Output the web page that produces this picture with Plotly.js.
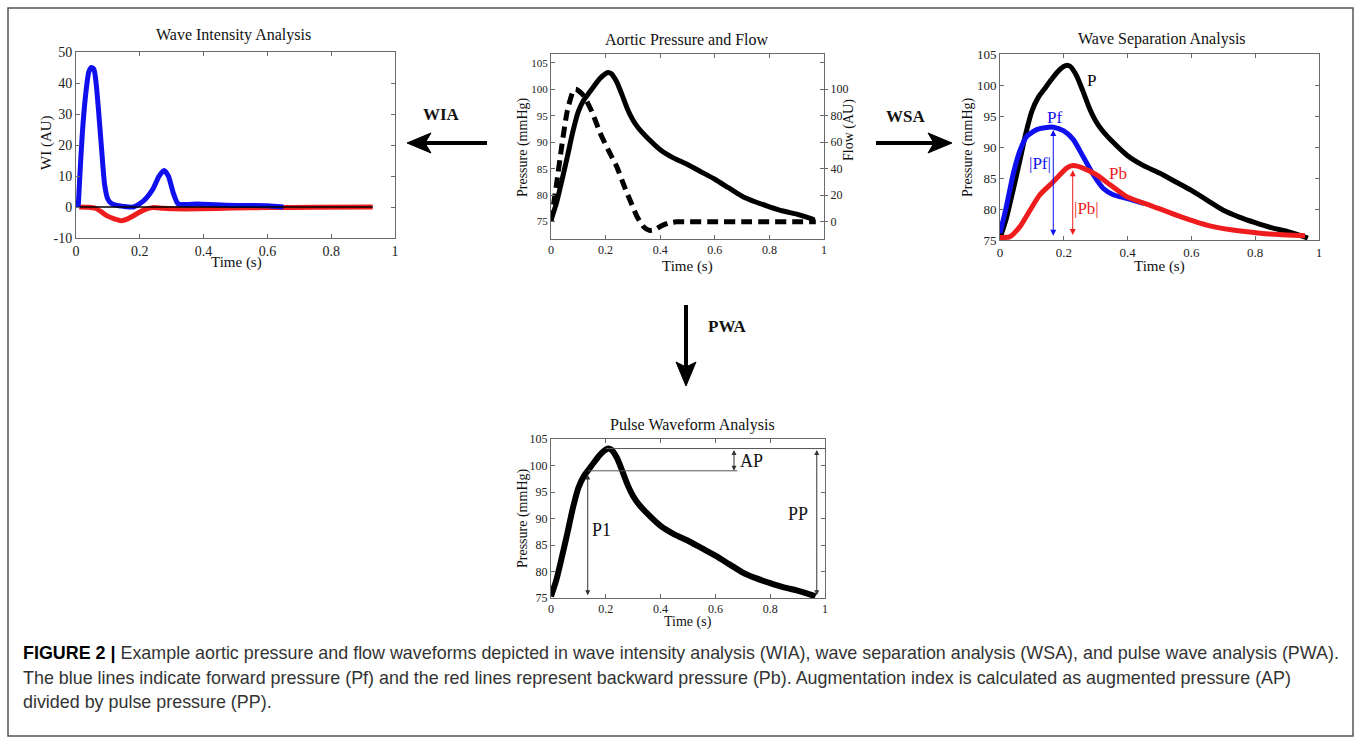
<!DOCTYPE html>
<html>
<head>
<meta charset="utf-8">
<script src="https://cdn.plot.ly/plotly-3.0.1.min.js"></script>
<style>html,body{margin:0;padding:0;background:#fff;}#chart{width:1358px;height:744px;}</style>
</head>
<body>
<div id="chart"></div>
<script>
// ---------- DATA ----------
// Aortic pressure waveform (mmHg) vs time (s)
const tP = [0,0.02,0.04,0.06,0.08,0.1,0.12,0.14,0.16,0.18,0.2,0.21,0.22,0.24,0.26,0.28,0.3,0.32,0.35,0.4,0.45,0.5,0.55,0.6,0.65,0.7,0.75,0.8,0.85,0.9,0.95,0.965];
const pressure = [75.3,78.5,82.8,87.3,92,95.8,98,99.4,100.8,102.1,103,103.2,103,101.5,99,96.3,94.2,92.7,91,88.6,87,85.8,84.4,83,81.4,79.8,78.7,77.8,77,76.4,75.6,75.3];
// Aortic flow (AU)
const tQ = [0,0.02,0.04,0.06,0.08,0.09,0.1,0.12,0.15,0.18,0.21,0.24,0.27,0.29,0.315,0.34,0.36,0.38,0.4,0.43,0.46,0.5,0.6,0.7,0.8,0.9,0.97];
const flow = [0,28,58,84,98,100,99,95,83,67,54,42,26,16,4,-4,-6.5,-6,-3.5,-1,0,0,0,0,0,0,0];
// Wave intensity: forward (blue) and backward (red), AU
const tWf = [0.007,0.012,0.02,0.03,0.04,0.048,0.056,0.063,0.07,0.08,0.09,0.1,0.11,0.125,0.148,0.18,0.21,0.24,0.26,0.276,0.29,0.305,0.32,0.35,0.38,0.44,0.5,0.6,0.65];
const wiForward = [0,10,24,36,43.5,45,44.5,40,32,19,7,2.5,1.2,0.6,0.2,0,1.8,5.6,9.9,11.8,9.9,4.5,1,0.8,1,0.7,0.5,0.4,0];
const tWb = [0.01,0.04,0.06,0.08,0.096,0.12,0.143,0.16,0.18,0.21,0.24,0.27,0.305,0.39,0.49,0.6,0.75,0.93];
const wiBackward = [0,-0.1,-0.4,-1.6,-2.8,-3.8,-4.4,-3.9,-2.8,-1.1,-0.2,-0.4,-0.6,-0.6,-0.3,-0.2,-0.1,0];
const tBase = [0.01,0.93];
const wiBase = [0,0];
// Wave separation: forward (Pf) and backward (Pb) pressure, mmHg
const tPf = [0,0.02,0.042,0.063,0.084,0.115,0.14,0.167,0.2,0.23,0.26,0.293,0.324,0.355,0.397,0.45];
const pForward = [76.1,80.4,85.8,89.5,91.7,92.8,93.1,93.2,92.6,91.2,88.5,85.5,83.3,82.3,81.7,80.9];
const tPb = [0,0.03,0.063,0.094,0.125,0.167,0.209,0.23,0.26,0.303,0.345,0.397,0.48,0.564,0.648,0.73,0.815,0.9,0.956];
const pBackward = [75.4,75.5,77.2,79.8,82.3,84.4,86.6,87,86.6,85.5,83.9,82,80.4,78.8,77.4,76.6,76.1,75.8,75.7];
// Pulse waveform analysis markers
const peakP = 103.2, p1 = 99.0, minP = 75.5;
// Tick labels
const timeTicks = [0,0.2,0.4,0.6,0.8,1];
const timeTickText = ['0','0.2','0.4','0.6','0.8','1'];
const wiTicks = [-10,0,10,20,30,40,50];
const wiTickText = ['-10','0','10','20','30','40','50'];
const pTicks = [75,80,85,90,95,100,105];
const flowTicks = [0,20,40,60,80,100];

// ---------- HELPERS ----------
const W = 1358, H = 744;
const px = x => x / W;
const py = y => 1 - y / H;
const SERIF = 'Liberation Serif, Times New Roman, serif';
const AXC = '#6a6a6a';
function pathPx(pts){return 'M ' + pts.map(p => px(p[0]).toFixed(5)+' '+py(p[1]).toFixed(5)).join(' L ') + ' Z';}

function xAx(dom, anchor, fs){
  return {domain:dom, anchor:anchor, range:[0,1], tickvals:timeTicks, ticktext:timeTickText,
    ticks:'inside', ticklen:4, tickcolor:AXC, showline:true, linecolor:AXC, linewidth:1,
    mirror:'ticks', showgrid:false, zeroline:false, tickfont:{family:SERIF,size:fs,color:'#222'}, fixedrange:true};
}
function yAx(dom, anchor, range, vals, fs, mirror, text){
  const a = {domain:dom, anchor:anchor, range:range, tickvals:vals,
    ticks:'inside', ticklen:4, tickcolor:AXC, showline:true, linecolor:AXC, linewidth:1,
    mirror:mirror, showgrid:false, zeroline:false, tickfont:{family:SERIF,size:fs,color:'#222'}, fixedrange:true};
  if (text) a.ticktext = text;
  return a;
}

// ---------- TRACES ----------
const thick = 5;
const traces = [
  // Panel 1 WIA
  {x:tWb, y:wiBackward, xaxis:'x', yaxis:'y', mode:'lines', line:{color:'#ee1c1c', width:thick, shape:'spline', smoothing:0.6}, name:'backward'},
  {x:tWf, y:wiForward, xaxis:'x', yaxis:'y', mode:'lines', line:{color:'#1010ee', width:thick, shape:'spline', smoothing:0.6}, name:'forward'},
  {x:tBase, y:wiBase, xaxis:'x', yaxis:'y', mode:'lines', line:{color:'#000', width:1.5}, name:'zero'},
  // Panel 2 pressure & flow
  {x:tP, y:pressure, xaxis:'x2', yaxis:'y2', mode:'lines', line:{color:'#000', width:thick, shape:'spline', smoothing:0.6}, name:'pressure'},
  {x:tQ, y:flow, xaxis:'x2', yaxis:'y5', mode:'lines', line:{color:'#000', width:thick, dash:'11px,6px', shape:'spline', smoothing:0.6}, name:'flow'},
  // Panel 3 WSA
  {x:tP, y:pressure, xaxis:'x3', yaxis:'y3', mode:'lines', line:{color:'#000', width:thick, shape:'spline', smoothing:0.6}, name:'P'},
  {x:tPf, y:pForward, xaxis:'x3', yaxis:'y3', mode:'lines', line:{color:'#1010ee', width:thick, shape:'spline', smoothing:0.6}, name:'Pf'},
  {x:tPb, y:pBackward, xaxis:'x3', yaxis:'y3', mode:'lines', line:{color:'#ee1c1c', width:thick, shape:'spline', smoothing:0.6}, name:'Pb'},
  // Panel 4 PWA
  {x:tP, y:pressure, xaxis:'x4', yaxis:'y4', mode:'lines', line:{color:'#000', width:thick+1, shape:'spline', smoothing:0.6}, name:'P'}
];

// ---------- ANNOTATIONS ----------
function txt(x, y, t, size, opts){
  return Object.assign({xref:'paper', yref:'paper', x:px(x), y:py(y), text:t, showarrow:false,
    xanchor:'center', yanchor:'middle', font:{family:SERIF, size:size, color:'#111'}}, opts||{});
}
const CAPF = {family:'Liberation Sans, Arial, sans-serif', size:17.9, color:'#333'};
const ann = [
  // panel titles
  txt(233, 35, 'Wave Intensity Analysis', 16),
  txt(687, 40, 'Aortic Pressure and Flow', 16),
  txt(1162, 39, 'Wave Separation Analysis', 16),
  txt(692, 425, 'Pulse Waveform Analysis', 16),
  // axis titles
  txt(47, 143, 'WI (AU)', 15, {textangle:-90}),
  txt(236, 262, 'Time (s)', 15),
  txt(523, 148, 'Pressure (mmHg)', 14, {textangle:-90}),
  txt(849, 130, 'Flow (AU)', 14, {textangle:-90}),
  txt(687, 266, 'Time (s)', 15),
  txt(968, 148, 'Pressure (mmHg)', 14, {textangle:-90}),
  txt(1159, 266, 'Time (s)', 15),
  txt(523, 519, 'Pressure (mmHg)', 14, {textangle:-90}),
  txt(688, 622, 'Time (s)', 14),
  // method labels
  txt(441, 115, '<b>WIA</b>', 17),
  txt(905, 117, '<b>WSA</b>', 17),
  txt(727, 327, '<b>PWA</b>', 17),
  // WSA labels
  {xref:'x3', yref:'y3', x:0.287, y:100.7, text:'P', showarrow:false, font:{family:SERIF,size:17,color:'#000'}},
  {xref:'x3', yref:'y3', x:0.172, y:94.8, text:'Pf', showarrow:false, font:{family:SERIF,size:17,color:'#1010ee'}},
  {xref:'x3', yref:'y3', x:0.371, y:85.8, text:'Pb', showarrow:false, font:{family:SERIF,size:17,color:'#ee1c1c'}},
  {xref:'x3', yref:'y3', x:0.125, y:87.4, text:'|Pf|', showarrow:false, font:{family:SERIF,size:17,color:'#1010ee'}},
  {xref:'x3', yref:'y3', x:0.272, y:80.1, text:'|Pb|', showarrow:false, font:{family:SERIF,size:17,color:'#ee1c1c'}},
  // WSA arrows
  {xref:'x3', yref:'y3', axref:'x3', ayref:'y3', x:0.167, y:75.7, ax:0.167, ay:93.0, text:'', showarrow:true,
    arrowside:'end+start', arrowhead:2, arrowsize:1.2, arrowwidth:1, arrowcolor:'#1010ee', standoff:0, startstandoff:0},
  {xref:'x3', yref:'y3', axref:'x3', ayref:'y3', x:0.228, y:75.8, ax:0.228, ay:86.5, text:'', showarrow:true,
    arrowside:'end+start', arrowhead:2, arrowsize:1.2, arrowwidth:1, arrowcolor:'#ee1c1c', standoff:0, startstandoff:0},
  // PWA labels
  {xref:'x4', yref:'y4', x:0.73, y:100.9, text:'AP', showarrow:false, font:{family:SERIF,size:18,color:'#111'}},
  {xref:'x4', yref:'y4', x:0.185, y:87.8, text:'P1', showarrow:false, font:{family:SERIF,size:18,color:'#111'}},
  {xref:'x4', yref:'y4', x:0.9, y:90.8, text:'PP', showarrow:false, font:{family:SERIF,size:18,color:'#111'}},
  // PWA arrows
  {xref:'x4', yref:'y4', axref:'x4', ayref:'y4', x:0.668, y:p1, ax:0.668, ay:peakP, text:'', showarrow:true,
    arrowside:'end+start', arrowhead:2, arrowsize:1, arrowwidth:1, arrowcolor:'#333', standoff:0, startstandoff:0},
  {xref:'x4', yref:'y4', axref:'x4', ayref:'y4', x:0.134, y:minP, ax:0.134, ay:p1-0.4, text:'', showarrow:true,
    arrowside:'end+start', arrowhead:2, arrowsize:1, arrowwidth:1, arrowcolor:'#333', standoff:0, startstandoff:0},
  {xref:'x4', yref:'y4', axref:'x4', ayref:'y4', x:0.97, y:minP, ax:0.97, ay:peakP, text:'', showarrow:true,
    arrowside:'end+start', arrowhead:2, arrowsize:1, arrowwidth:1, arrowcolor:'#333', standoff:0, startstandoff:0},
  // caption
  {xref:'paper', yref:'paper', x:px(21), y:py(653), xanchor:'left', yanchor:'middle', showarrow:false,
    text:'<b style="color:#000">FIGURE 2 |</b> Example aortic pressure and flow waveforms depicted in wave intensity analysis (WIA), wave separation analysis (WSA), and pulse wave analysis (PWA).',
    font:CAPF},
  {xref:'paper', yref:'paper', x:px(21), y:py(678), xanchor:'left', yanchor:'middle', showarrow:false,
    text:'The blue lines indicate forward pressure (Pf) and the red lines represent backward pressure (Pb). Augmentation index is calculated as augmented pressure (AP)',
    font:CAPF},
  {xref:'paper', yref:'paper', x:px(21), y:py(702), xanchor:'left', yanchor:'middle', showarrow:false,
    text:'divided by pulse pressure (PP).',
    font:CAPF}
];

// ---------- SHAPES ----------
const shapes = [
  {type:'rect', xref:'paper', yref:'paper', x0:px(8), x1:px(1353), y0:py(8), y1:py(736), line:{color:'#555', width:1.5}},
  // WIA arrow
  {type:'line', xref:'paper', yref:'paper', x0:px(487), x1:px(424), y0:py(143), y1:py(143), line:{color:'#000', width:4}},
  {type:'path', xref:'paper', yref:'paper', path:pathPx([[407,143],[431,133],[425,143],[431,153]]), fillcolor:'#000', line:{color:'#000', width:1}},
  // WSA arrow
  {type:'line', xref:'paper', yref:'paper', x0:px(876), x1:px(936), y0:py(143), y1:py(143), line:{color:'#000', width:4}},
  {type:'path', xref:'paper', yref:'paper', path:pathPx([[952,143],[928,133],[934,143],[928,153]]), fillcolor:'#000', line:{color:'#000', width:1}},
  // PWA arrow
  {type:'line', xref:'paper', yref:'paper', x0:px(686), x1:px(686), y0:py(305), y1:py(369), line:{color:'#000', width:4}},
  {type:'path', xref:'paper', yref:'paper', path:pathPx([[686,386],[676,362],[686,367],[696,362]]), fillcolor:'#000', line:{color:'#000', width:1}},
  // PWA reference lines
  {type:'line', xref:'x4', yref:'y4', x0:0.2, x1:1, y0:peakP, y1:peakP, line:{color:'#555', width:1}},
  {type:'line', xref:'x4', yref:'y4', x0:0.135, x1:0.68, y0:p1, y1:p1, line:{color:'#555', width:1}}
];

const layout = {
  width:W, height:H, margin:{l:0,r:0,t:0,b:0}, paper_bgcolor:'#fff', plot_bgcolor:'#fff', showlegend:false,
  xaxis: xAx([px(76), px(395)], 'y', 14),
  yaxis: yAx([py(238), py(52)], 'x', [-10,50], wiTicks, 14, 'ticks', wiTickText),
  xaxis2: xAx([px(551), px(824)], 'y2', 12),
  yaxis2: yAx([py(239), py(54)], 'x2', [71.7,106.7], pTicks, 11, 'ticks'),
  yaxis5: {overlaying:'y2', side:'right', anchor:'x2', range:[-13,126.6], tickvals:flowTicks, ticks:'outside', ticklen:3,
    tickcolor:AXC, showline:false, showgrid:false, zeroline:false, tickfont:{family:SERIF,size:12,color:'#222'}, fixedrange:true},
  xaxis3: xAx([px(1000), px(1319)], 'y3', 13),
  yaxis3: yAx([py(240), py(54)], 'x3', [75,105], pTicks, 13, 'ticks'),
  xaxis4: xAx([px(551), px(825)], 'y4', 12),
  yaxis4: yAx([py(598), py(439)], 'x4', [75,105], pTicks, 12, 'ticks'),
  annotations: ann,
  shapes: shapes
};

Plotly.newPlot('chart', traces, layout, {displayModeBar:false, staticPlot:true});
</script>
</body>
</html>
